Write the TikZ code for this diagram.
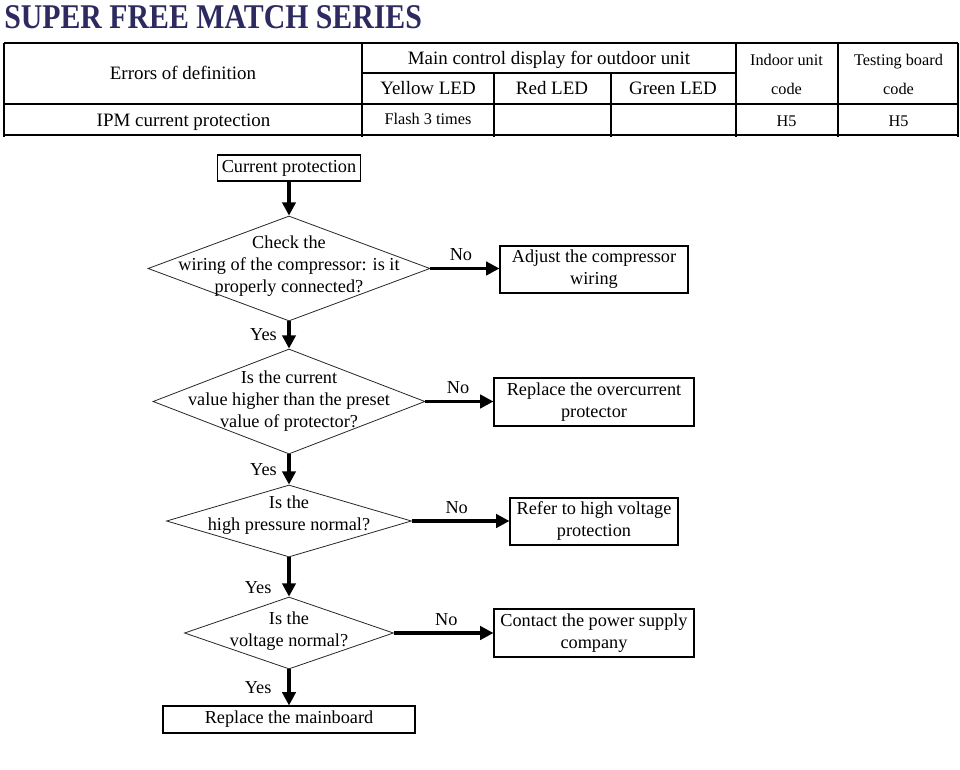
\documentclass[tikz,border=0pt]{standalone}
\usepackage{fontspec}
\setmainfont{Liberation Serif}
\usetikzlibrary{positioning, arrows.meta, shapes.geometric}
\definecolor{TitleNavy}{HTML}{2C2A5E}

\begin{document}
\begin{tikzpicture}[
        x=0.75pt, y=-0.75pt,
        box/.style={
            rectangle, draw=black, line width=0.8pt, align=center,
            font=\fontsize{13.7}{16.5}\selectfont, inner sep=0pt
        },
        decision/.style={
            diamond, draw=black!85, line width=0.6pt, align=center,
            font=\fontsize{13.7}{16.5}\selectfont, inner sep=-100pt
        },
        cell/.style={font=\fontsize{14.2}{16}\selectfont, inner sep=0pt, anchor=base},
        smallcell/.style={font=\fontsize{12.2}{21.75}\selectfont, inner sep=0pt, align=center},
        arrow/.style={line width=2.4pt, -{Triangle[length=10pt, width=10pt]}},
        answer/.style={font=\fontsize{13.7}{16}\selectfont, inner sep=0pt},
        grid/.style={line width=0.9pt}
    ]
    \useasboundingbox (0,0) rectangle (960,770);

    % Title
    \node[anchor=base west, inner sep=0pt, text=TitleNavy, font=\fontsize{26}{26}\selectfont\bfseries] (title) at (4,29)
        {\scalebox{0.86}[1]{SUPER FREE MATCH SERIES}};

    % Table
    \draw[grid] (4,43) -- (958,43);
    \draw[grid] (362,73) -- (736,73);
    \draw[grid] (4,104) -- (958,104);
    \draw[grid] (4,135) -- (958,135);
    \foreach \x in {4,362,736,838,958} \draw[grid] (\x,43) -- (\x,137);
    \foreach \x in {494,611} \draw[grid] (\x,73) -- (\x,137);

    \node[cell] (errhead) at (183,80) {Errors of definition};
    \node[cell] (mainhead) at (549,65) {Main control display for outdoor unit};
    \node[cell] (yellow) at (428,95) {Yellow LED};
    \node[cell] (red) at (552,95) {Red LED};
    \node[cell] (green) at (673,95) {Green LED};
    \node[smallcell] (indoor) at (786.5,74) {Indoor unit\\code};
    \node[smallcell] (testing) at (898.5,74) {Testing board\\code};
    \node[cell] (ipm) at (183.5,127) {IPM current protection};
    \node[cell, font=\fontsize{12.2}{14}\selectfont] (flash) at (428,125) {Flash 3 times};
    \node[cell, font=\fontsize{12.2}{14}\selectfont] (indoorcode) at (786.5,127) {H5};
    \node[cell, font=\fontsize{12.2}{14}\selectfont] (testcode) at (898.5,127) {H5};

    % Main column
    \node (start) [box, minimum width=107.25pt, minimum height=19.5pt] at (289,168) {Current protection};
    \node (wiring) [decision, minimum width=211.5pt, minimum height=78.75pt, text depth=6pt] at (289,268.5)
        {Check the\\wiring of the compressor: is it\\properly connected?};
    \node (current) [decision, minimum width=204pt, minimum height=78.75pt] at (289,401.5)
        {Is the current\\value higher than the preset\\value of protector?};
    \node (pressure) [decision, minimum width=183.75pt, minimum height=54pt, text depth=12.5pt] at (289,521)
        {Is the\\high pressure normal?};
    \node (voltage) [decision, minimum width=156.75pt, minimum height=54pt, text depth=5.5pt] at (289,633)
        {Is the\\voltage normal?};
    \node (mainboard) [box, minimum width=189pt, minimum height=20.25pt] at (289,719.5) {Replace the mainboard};

    % Actions
    \node (adjust) [box, minimum width=141pt, minimum height=35.25pt] at (594,269.5) {Adjust the compressor\\wiring};
    \node (replace) [box, minimum width=150pt, minimum height=36pt] at (594,402) {Replace the overcurrent\\protector};
    \node (refer) [box, minimum width=126pt, minimum height=35.25pt] at (594,521.5) {Refer to high voltage\\protection};
    \node (contact) [box, minimum width=150pt, minimum height=36pt] at (594,633) {Contact the power supply\\company};

    % Yes arrows
    \draw [arrow] (start.south) -- (wiring.north);
    \draw [arrow] (wiring.south) -- node[answer, midway, left=8pt]{Yes} (current.north);
    \draw [arrow] (current.south) -- node[answer, midway, left=8pt]{Yes} (pressure.north);
    \draw [arrow] (pressure.south) -- node[answer, pos=0.76, left=12pt]{Yes} (voltage.north);
    \draw [arrow] (voltage.south) -- node[answer, midway, left=12pt]{Yes} (mainboard.north);

    % No arrows
    \draw [arrow] (wiring.east) -- node[answer, midway, above=4.5pt, xshift=-3pt]{No} (adjust.west |- wiring.east);
    \draw [arrow] (current.east) -- node[answer, midway, above=4.5pt, xshift=-1pt]{No} (replace.west |- current.east);
    \draw [arrow] (pressure.east) -- node[answer, midway, above=4.5pt, xshift=-3pt]{No} (refer.west |- pressure.east);
    \draw [arrow] (voltage.east) -- node[answer, midway, above=4.5pt, xshift=2pt]{No} (contact.west |- voltage.east);

\end{tikzpicture}
\end{document}
